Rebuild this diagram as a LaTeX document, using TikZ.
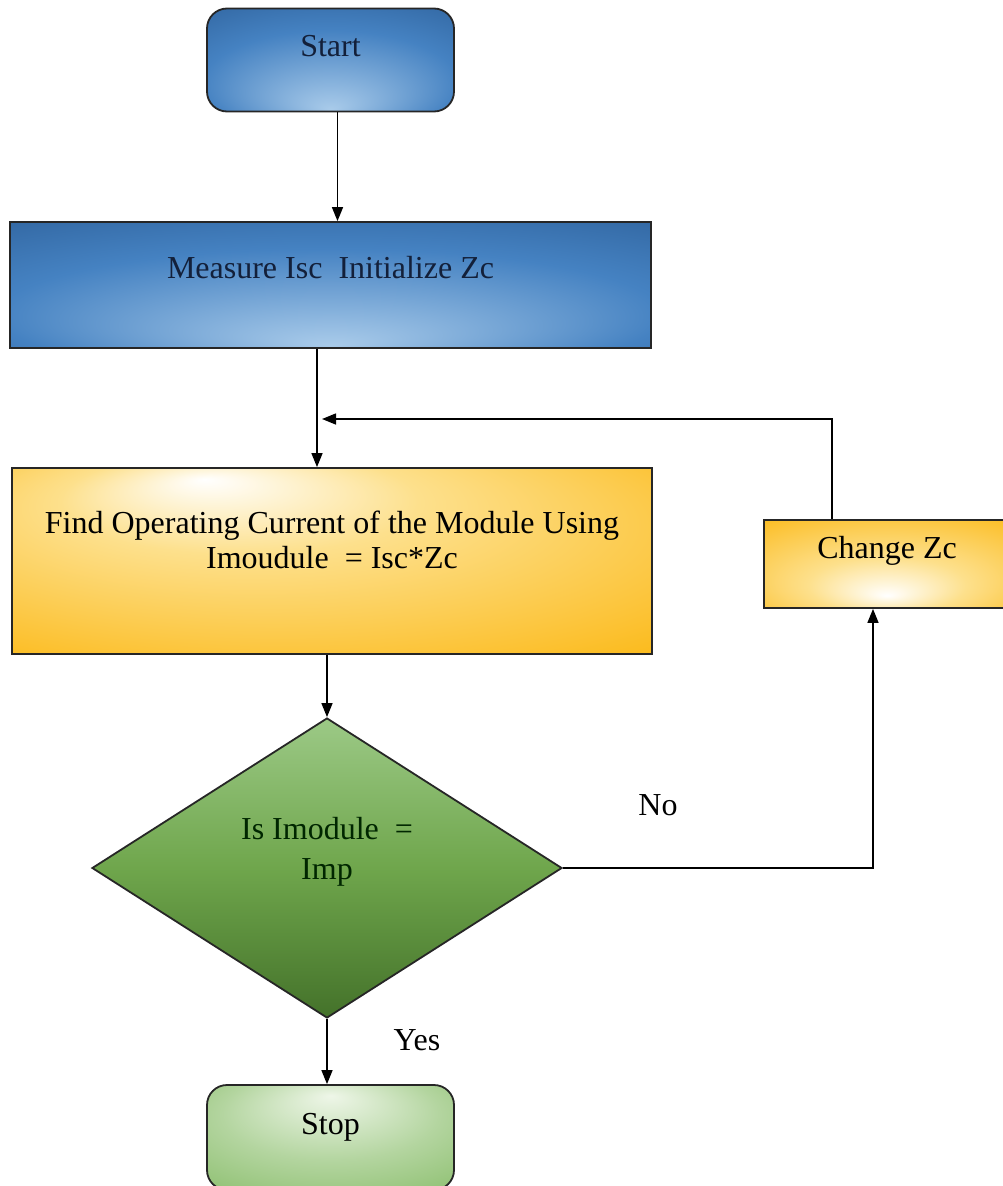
\documentclass[tikz,border=0pt]{standalone}
\usepackage{fontspec}
\setmainfont{Liberation Serif}
\usetikzlibrary{arrows.meta,shapes.geometric,positioning,calc}
\definecolor{bluedark}{HTML}{26568E}
\definecolor{bluemid}{HTML}{4582C2}
\definecolor{bluelight}{HTML}{A9CBEA}
\definecolor{yellowdark}{HTML}{FBB50C}
\definecolor{yellowlight}{HTML}{FDE08C}
\definecolor{greentop}{HTML}{9CC986}
\definecolor{greenmid}{HTML}{6FA64C}
\definecolor{greenbot}{HTML}{44722A}
\definecolor{greenedge}{HTML}{79B457}
\definecolor{greenlight}{HTML}{EEF6E8}
\definecolor{navytext}{HTML}{13203A}
\pgfdeclareradialshading{blueglow}{\pgfpoint{0bp}{-24bp}}{color(0bp)=(bluelight); color(26bp)=(bluemid); color(50bp)=(bluedark)}
\pgfdeclareradialshading{yellowglow}{\pgfpoint{-10bp}{22bp}}{color(0bp)=(white); color(14bp)=(yellowlight); color(44bp)=(yellowdark); color(50bp)=(yellowdark)}
\pgfdeclareradialshading{changeglow}{\pgfpoint{0bp}{-18bp}}{color(0bp)=(white); color(16bp)=(yellowlight); color(44bp)=(yellowdark); color(50bp)=(yellowdark)}
\pgfdeclareradialshading{greenglow}{\pgfpoint{0bp}{20bp}}{color(0bp)=(greenlight); color(22bp)=(greenlight!50!greenedge); color(50bp)=(greenedge)}
\newcommand{\up}[2]{\raisebox{#1}[0pt][0pt]{#2}}

\begin{document}
\begin{tikzpicture}[x=1pt,y=-1pt,
  every node/.style={font=\fontsize{32}{35}\selectfont},
  box/.style={draw=black!85, line width=1.8pt, inner sep=0pt},
  arr/.style={line width=1.5pt, -{Triangle[length=14pt,width=11pt]}}]
\useasboundingbox (0,0) rectangle (1003,1186);
\clip (0,0) rectangle (1003,1186);
\fill[white] (0,0) rectangle (1003,1186);

\node[box, rounded corners=20pt, shading=blueglow, text=navytext, minimum width=247pt, minimum height=103pt] (start) at (330.5,60) {\up{4pt}{Start}};
\node[box, shading=blueglow, text=navytext, minimum width=641pt, minimum height=126pt] (measure) at (330.5,285) {\up{7pt}{Measure Isc\ \ Initialize Zc}};
\node[box, shading=yellowglow, minimum width=640pt, minimum height=186pt] (find) at (332,561) {\up{10.5pt}{\begin{tabular}{@{}c@{}}Find Operating Current of the Module Using\\Imoudule\ \ = Isc*Zc\end{tabular}}};
\node[box, diamond, aspect=1.57, top color=greentop, bottom color=greenbot, middle color=greenmid, text=black!85!green, minimum width=470pt, minimum height=300pt] (check) at (327,868) {\up{9pt}{\begin{tabular}{@{}c@{}}Is Imodule\ \ =\\[5pt]Imp\end{tabular}}};
\node[box, shading=changeglow, minimum width=246pt, minimum height=88pt] (change) at (887,564) {\up{6pt}{Change Zc}};
\node[box, rounded corners=20pt, shading=greenglow, minimum width=247pt, minimum height=105pt] (stop) at (330.5,1137.5) {\up{3pt}{Stop}};
\node (no) at (658,805) {No};
\node (yes) at (417,1040) {Yes};
\coordinate (join) at (322,419);

\draw[arr] ($(start.south)+(7,0)$) coordinate (s1) -- (s1 |- measure.north);
\draw[arr] ($(measure.south)+(-13.5,0)$) coordinate (s2) -- (s2 |- find.north);
\draw[arr] (check.north |- find.south) -- (check.north);
\draw[arr] (check.south) -- (check.south |- stop.north);
\draw[arr] (check.east) -| ($(change.south)+(-14,0)$);
\draw[arr] ($(change.north)+(-55,0)$) |- (join);
\end{tikzpicture}
\end{document}
